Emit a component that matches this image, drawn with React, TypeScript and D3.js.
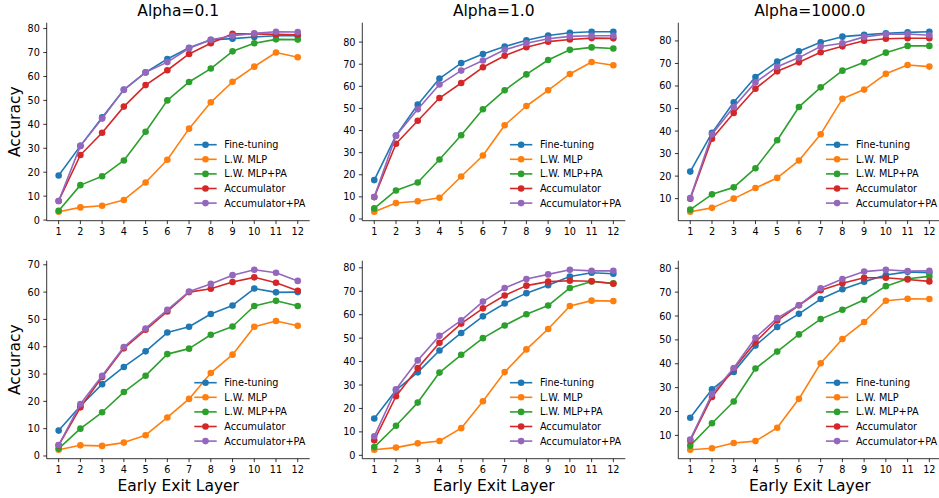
import React from 'react';
import * as d3 from 'd3';

const layers = [1, 2, 3, 4, 5, 6, 7, 8, 9, 10, 11, 12];
const methods = ['Fine-tuning', 'L.W. MLP', 'L.W. MLP+PA', 'Accumulator', 'Accumulator+PA'];
const colors = ['#1f77b4', '#ff7f0e', '#2ca02c', '#d62728', '#9467bd'];
const titles = ['Alpha=0.1', 'Alpha=1.0', 'Alpha=1000.0', '', '', ''];

// top row
const a01Fine = [18.6, 31, 42.9, 54.4, 61.7, 67.3, 72, 75.3, 75.8, 76.5, 77, 77];
const a01Mlp = [3.5, 5.3, 6, 8.4, 15.7, 25.2, 38.2, 49.2, 57.8, 64.1, 70, 68];
const a01MlpPa = [3.9, 14.6, 18.3, 24.9, 36.9, 50, 57.7, 63.3, 70.5, 73.9, 75.5, 75.4];
const a01Acc = [8, 27.2, 36.5, 47.4, 56.4, 62.6, 69.4, 73.9, 77.8, 77.8, 77.6, 77.4];
const a01AccPa = [8, 31, 42.4, 54.5, 61.7, 66, 71.8, 75.3, 77, 78, 78.7, 78.6];

const a1Fine = [17.6, 37.7, 51.7, 63.5, 70.5, 74.6, 78, 80.8, 83, 84.2, 84.7, 84.7];
const a1Mlp = [3.3, 7.2, 8, 9.6, 19.2, 28.7, 42.4, 51.1, 58.2, 65.6, 71, 69.5];
const a1MlpPa = [4.8, 12.9, 16.5, 26.9, 37.9, 49.6, 58.2, 65.4, 71.9, 76.5, 77.6, 77.1];
const a1Acc = [9.9, 34, 44.4, 54.7, 61.5, 68.6, 73.8, 77.7, 80.2, 81.2, 81.8, 81.7];
const a1AccPa = [9.9, 37.7, 49.6, 60.8, 67.1, 71.7, 76.5, 79.5, 81.5, 82.6, 82.9, 82.9];

const a1000Fine = [22, 39.2, 52.8, 64, 70.8, 75.4, 79.4, 81.9, 82.7, 83.4, 83.8, 84.1];
const a1000Mlp = [4.2, 5.9, 10, 14.7, 19.2, 26.9, 38.6, 54.3, 58.4, 65.4, 69.3, 68.6];
const a1000MlpPa = [5.1, 11.9, 15, 23.5, 35.9, 50.7, 59.4, 66.8, 70.5, 74.8, 77.8, 77.8];
const a1000Acc = [10, 36.6, 48, 58.8, 66.5, 70.5, 75, 77.6, 80.1, 81, 81.2, 81.2];
const a1000AccPa = [10.3, 38.6, 50.7, 61.6, 68.5, 72.6, 77.5, 79, 81.8, 83, 83.1, 82.5];

// bottom row
const b01Fine = [9.3, 18.3, 26.3, 32.6, 38.3, 45.2, 47.3, 52, 55.1, 61.3, 59.9, 60];
const b01Mlp = [2.3, 3.9, 3.7, 4.9, 7.6, 14.1, 20.9, 30.4, 37.1, 47.3, 49.4, 47.7];
const b01MlpPa = [2.7, 10, 16, 23.4, 29.4, 37.3, 39.3, 44.4, 47.4, 54.9, 56.8, 54.9];
const b01Acc = [3.9, 17.8, 28.9, 39.4, 46.2, 52.9, 60, 61.2, 63.7, 65.4, 63.4, 60.5];
const b01AccPa = [4, 19, 29.4, 39.9, 46.7, 53.5, 60.2, 63, 66.2, 68.2, 67.1, 64.1];

const b1Fine = [15.7, 27.8, 35.4, 44.7, 52.2, 59.3, 64.8, 69.2, 72.6, 76.3, 77.9, 77.5];
const b1Mlp = [2.4, 3.3, 5.1, 6.1, 11.6, 23.1, 35.5, 45.2, 53.9, 63.7, 66, 65.8];
const b1MlpPa = [3.5, 12.6, 22.5, 35.3, 42.9, 50, 55.4, 60.2, 63.9, 71.4, 74.2, 73.4];
const b1Acc = [6.4, 25.2, 37.2, 48, 56.2, 62.7, 68.2, 72.4, 74.1, 74.5, 74.3, 73.2];
const b1AccPa = [8.1, 28.2, 40.5, 51, 57.6, 65.6, 71.4, 75.2, 77.2, 79.2, 78.7, 78.7];

const b1000Fine = [17.4, 29.3, 36.6, 47.6, 55.4, 60.9, 67.1, 71.2, 74.4, 77.2, 78.5, 78.1];
const b1000Mlp = [4, 4.6, 6.8, 7.6, 13.2, 25.3, 40.2, 50.4, 57.5, 66.4, 67.2, 67.1];
const b1000MlpPa = [5.7, 15.1, 24.2, 38, 45.1, 52.3, 58.7, 62.6, 66.8, 72.5, 75.6, 76.6];
const b1000Acc = [7.9, 26.1, 37.8, 49.1, 58.1, 64.5, 70.8, 73.7, 76, 76, 75.3, 74.5];
const b1000AccPa = [8.3, 27.3, 38.2, 50.9, 59.1, 64.5, 71.6, 75.5, 78.6, 79.4, 78.8, 78.9];

const panelData = [
  [a01Fine, a01Mlp, a01MlpPa, a01Acc, a01AccPa],
  [a1Fine, a1Mlp, a1MlpPa, a1Acc, a1AccPa],
  [a1000Fine, a1000Mlp, a1000MlpPa, a1000Acc, a1000AccPa],
  [b01Fine, b01Mlp, b01MlpPa, b01Acc, b01AccPa],
  [b1Fine, b1Mlp, b1MlpPa, b1Acc, b1AccPa],
  [b1000Fine, b1000Mlp, b1000MlpPa, b1000Acc, b1000AccPa],
];

const font = 'DejaVu Sans, sans-serif';
const colLeft = [46.7, 362.3, 678.3];
const rowTop = [22.7, 260.7];
const axW = 263;
const axH = 198;

function Panel({ idx }: { idx: number }) {
  const series = panelData[idx];
  const left = colLeft[idx % 3];
  const top = rowTop[Math.floor(idx / 3)];
  const bottom = top + axH;
  const right = left + axW;

  const all = series.flat();
  const lo = d3.min(all) as number;
  const hi = d3.max(all) as number;
  const pad = (hi - lo) * 0.05;

  const x = d3.scaleLinear().domain([0.45, 12.55]).range([left, right]);
  const y = d3.scaleLinear().domain([lo - pad, hi + pad]).range([bottom, top]);
  const yTicks = d3.range(Math.ceil((lo - pad) / 10) * 10, hi + pad, 10);

  const line = d3.line<number>()
    .x((_, i) => x(layers[i]))
    .y(d => y(d));

  const isBottom = idx >= 3;
  const legX = right - 115.4;
  const legY = bottom - 76;

  return (
    <g>
      {titles[idx] && (
        <text x={left + axW / 2} y={top - 7} textAnchor="middle" fontSize={15.5} fontFamily={font}>
          {titles[idx]}
        </text>
      )}
      {series.map((vals, s) => (
        <g key={s}>
          <path d={line(vals) || ''} fill="none" stroke={colors[s]} strokeWidth={1.6} strokeLinejoin="round" />
          {vals.map((v, i) => (
            <circle key={i} cx={x(layers[i])} cy={y(v)} r={3.3} fill={colors[s]} />
          ))}
        </g>
      ))}
      {/* spines */}
      <line x1={left} x2={left} y1={top} y2={bottom} stroke="#000" strokeWidth={0.8} />
      <line x1={left} x2={right} y1={bottom} y2={bottom} stroke="#000" strokeWidth={0.8} />
      {layers.map(l => (
        <g key={l}>
          <line x1={x(l)} x2={x(l)} y1={bottom} y2={bottom + 3.4} stroke="#000" strokeWidth={0.8} />
          <text x={x(l)} y={bottom + 14.3} textAnchor="middle" fontSize={9.7} fontFamily={font}>{l}</text>
        </g>
      ))}
      {yTicks.map(t => (
        <g key={t}>
          <line x1={left - 3.4} x2={left} y1={y(t)} y2={y(t)} stroke="#000" strokeWidth={0.8} />
          <text x={left - 6.8} y={y(t)} dy="0.36em" textAnchor="end" fontSize={9.7} fontFamily={font}>{t}</text>
        </g>
      ))}
      {/* legend */}
      {methods.map((m, s) => {
        const ly = legY + s * 14.6;
        return (
          <g key={m}>
            <line x1={legX} x2={legX + 22.4} y1={ly} y2={ly} stroke={colors[s]} strokeWidth={1.6} />
            <circle cx={legX + 11.2} cy={ly} r={3.3} fill={colors[s]} />
            <text x={legX + 30} y={ly} dy="0.36em" fontSize={9.7} fontFamily={font}>{m}</text>
          </g>
        );
      })}
      {idx % 3 === 0 && (
        <text transform={`translate(19.5,${top + axH / 2}) rotate(-90)`} textAnchor="middle" fontSize={15.5} fontFamily={font}>
          Accuracy
        </text>
      )}
      {isBottom && (
        <text x={left + axW / 2} y={491} textAnchor="middle" fontSize={15.5} fontFamily={font}>
          Early Exit Layer
        </text>
      )}
    </g>
  );
}

export default function App() {
  return (
    <svg width={939} height={498} style={{ position: 'absolute', left: 0, top: 0, background: '#fff' }}>
      <rect width={939} height={498} fill="#fff" />
      {panelData.map((_, i) => <Panel key={i} idx={i} />)}
    </svg>
  );
}
